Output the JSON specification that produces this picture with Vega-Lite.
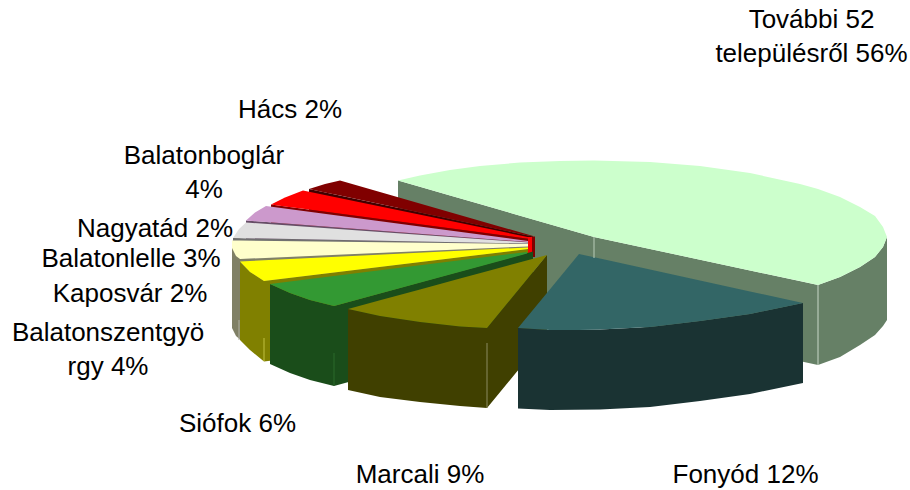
{
"$schema":"https://vega.github.io/schema/vega-lite/v6.json",
"width":910,"height":490,"padding":0,
"autosize":{"type":"fit","contains":"padding"},
"background":"white",
"view":{"stroke":null},
"datasets":{
"faces":[
{"face":"További side","u":-132,"v":64.5,"v2":-15.5},{"face":"További side","u":64,"v":8,"v2":-72},{"face":"További side","u":288,"v":-40,"v2":-120},{"face":"További side","u":310,"v":-32,"v2":-112},{"face":"További side","u":330,"v":-22,"v2":-100},{"face":"További side","u":345,"v":-12,"v2":-90},{"face":"További side","u":353,"v":-2,"v2":-81},{"face":"További side","u":357,"v":8,"v2":-75},
{"face":"További top","u":-132,"v":64.5,"v2":64.5},{"face":"További top","u":-110,"v":69.5,"v2":58.2},{"face":"További top","u":-80,"v":75,"v2":49.5},{"face":"További top","u":-50,"v":79,"v2":40.9},{"face":"További top","u":-10,"v":82.5,"v2":29.3},{"face":"További top","u":30,"v":84,"v2":17.8},{"face":"További top","u":64,"v":84.5,"v2":8},{"face":"További top","u":120,"v":83,"v2":-4},{"face":"További top","u":170,"v":79,"v2":-14.7},{"face":"További top","u":220,"v":72,"v2":-25.4},{"face":"További top","u":270,"v":61,"v2":-36.1},{"face":"További top","u":288,"v":56,"v2":-40},{"face":"További top","u":310,"v":48,"v2":-32},{"face":"További top","u":330,"v":38,"v2":-22},{"face":"További top","u":345,"v":29,"v2":-12},{"face":"További top","u":353,"v":18,"v2":-2},{"face":"További top","u":357,"v":8,"v2":8},
{"face":"Hács side","u":-221,"v":56,"v2":-24},{"face":"Hács side","u":3,"v":8.5,"v2":-71.5},
{"face":"Hács band","u":2,"v":8.5,"v2":-12},{"face":"Hács band","u":5,"v":8.5,"v2":-12},
{"face":"Hács top","u":-221,"v":56,"v2":56},{"face":"Hács top","u":-205,"v":61,"v2":52.6},{"face":"Hács top","u":-190,"v":64.5,"v2":49.4},{"face":"Hács top","u":3,"v":9,"v2":8.5},
{"face":"Boglár side","u":-259,"v":40.5,"v2":-39.5},{"face":"Boglár side","u":0,"v":6,"v2":-74},
{"face":"Boglár band","u":-2,"v":8,"v2":-8},{"face":"Boglár band","u":2,"v":8,"v2":-8},
{"face":"Boglár top","u":-259,"v":40.5,"v2":40.5},{"face":"Boglár top","u":-245,"v":47.5,"v2":38.6},{"face":"Boglár top","u":-227,"v":54.5,"v2":36.2},{"face":"Boglár top","u":0,"v":7.5,"v2":6},
{"face":"Nagyatád side","u":-284,"v":24.5,"v2":-55.5},{"face":"Nagyatád side","u":-2,"v":3,"v2":-77},
{"face":"Nagyatád top","u":-284,"v":24.5,"v2":24.5},{"face":"Nagyatád top","u":-275,"v":32.5,"v2":23.8},{"face":"Nagyatád top","u":-264,"v":39,"v2":23},{"face":"Nagyatád top","u":-2,"v":4,"v2":3},
{"face":"Lelle side","u":-297,"v":7,"v2":-73},{"face":"Lelle side","u":-2,"v":1.5,"v2":-78.5},
{"face":"Lelle top","u":-297,"v":7,"v2":7},{"face":"Lelle top","u":-291,"v":16,"v2":6.9},{"face":"Lelle top","u":-284,"v":22.5,"v2":6.8},{"face":"Lelle top","u":-2,"v":2.5,"v2":1.5},
{"face":"Kaposvár side","u":-298,"v":4.5,"v2":-83},{"face":"Kaposvár side","u":-294,"v":0,"v2":-91},{"face":"Kaposvár side","u":-290,"v":-14,"v2":-94.5},{"face":"Kaposvár side","u":-2,"v":-1.5,"v2":-81.5},
{"face":"Kaposvár top","u":-298,"v":4.5,"v2":-3},{"face":"Kaposvár top","u":-294,"v":4.4,"v2":-11},{"face":"Kaposvár top","u":-290,"v":4.4,"v2":-14},{"face":"Kaposvár top","u":-2,"v":1,"v2":-1.5},
{"face":"Szentgyörgy side","u":-290,"v":-17,"v2":-95},{"face":"Szentgyörgy side","u":-280,"v":-27,"v2":-105},{"face":"Szentgyörgy side","u":-266,"v":-36,"v2":-116.5},{"face":"Szentgyörgy side","u":-2,"v":-4,"v2":-84},
{"face":"Szentgyörgy top","u":-290,"v":-16.5,"v2":-16.5},{"face":"Szentgyörgy top","u":-280,"v":-16,"v2":-27},{"face":"Szentgyörgy top","u":-266,"v":-15.3,"v2":-36},{"face":"Szentgyörgy top","u":-2,"v":-2.5,"v2":-4},
{"face":"Siófok side","u":-260,"v":-39,"v2":-119},{"face":"Siófok side","u":-240,"v":-48,"v2":-128},{"face":"Siófok side","u":-220,"v":-55,"v2":-135},{"face":"Siófok side","u":-196,"v":-61,"v2":-141},{"face":"Siófok side","u":3,"v":-6.5,"v2":-86.5},
{"face":"Siófok top","u":-260,"v":-39,"v2":-39},{"face":"Siófok top","u":-240,"v":-36.5,"v2":-48},{"face":"Siófok top","u":-220,"v":-34,"v2":-55},{"face":"Siófok top","u":-196,"v":-31,"v2":-61},{"face":"Siófok top","u":-3,"v":-7,"v2":-8.6},
{"face":"Marcali side","u":-182,"v":-64,"v2":-145},{"face":"Marcali side","u":-150,"v":-71,"v2":-152},{"face":"Marcali side","u":-110,"v":-77,"v2":-157},{"face":"Marcali side","u":-70,"v":-81.5,"v2":-161},{"face":"Marcali side","u":-43,"v":-83,"v2":-163},{"face":"Marcali side","u":17,"v":-10,"v2":-90},
{"face":"Marcali top","u":-182,"v":-64,"v2":-64},{"face":"Marcali top","u":-150,"v":-55.3,"v2":-71},{"face":"Marcali top","u":-110,"v":-44.5,"v2":-77},{"face":"Marcali top","u":-70,"v":-33.6,"v2":-81.5},{"face":"Marcali top","u":-43,"v":-26.3,"v2":-83},{"face":"Marcali top","u":17,"v":-10,"v2":-10},
{"face":"Fonyód side","u":-12,"v":-83,"v2":-163.5},{"face":"Fonyód side","u":20,"v":-85,"v2":-165},{"face":"Fonyód side","u":70,"v":-84.5,"v2":-164.5},{"face":"Fonyód side","u":120,"v":-82,"v2":-162},{"face":"Fonyód side","u":170,"v":-76,"v2":-156},{"face":"Fonyód side","u":220,"v":-69,"v2":-149},{"face":"Fonyód side","u":273,"v":-58,"v2":-138},
{"face":"Fonyód top","u":-12,"v":-83,"v2":-83},{"face":"Fonyód top","u":20,"v":-44.2,"v2":-85},{"face":"Fonyód top","u":49,"v":-9,"v2":-85},{"face":"Fonyód top","u":70,"v":-13.6,"v2":-84.5},{"face":"Fonyód top","u":120,"v":-24.5,"v2":-82},{"face":"Fonyód top","u":170,"v":-35.5,"v2":-76},{"face":"Fonyód top","u":220,"v":-46.4,"v2":-69},{"face":"Fonyód top","u":273,"v":-58,"v2":-58}
],
"edges":[
{"edge":"További inner","u":64,"v":8,"v2":-13},
{"edge":"További outer","u":288,"v":-40,"v2":-120},
{"edge":"Marcali","u":-43,"v":-98,"v2":-163},
{"edge":"Siófok","u":-196,"v":-108,"v2":-140},
{"edge":"Szentgyörgy","u":-266,"v":-93,"v2":-116},
{"edge":"Kaposvár","u":-291,"v":-75,"v2":-95}
],
"labels":[
{"settlement":"További 52 település","share":56,"label":"További 52\ntelepülésről 56%","u":281.5,"v":225},
{"settlement":"Fonyód","share":12,"label":"Fonyód 12%","u":215.5,"v":-230},
{"settlement":"Marcali","share":9,"label":"Marcali 9%","u":-110,"v":-229.5},
{"settlement":"Siófok","share":6,"label":"Siófok 6%","u":-292.5,"v":-179},
{"settlement":"Balatonszentgyörgy","share":4,"label":"Balatonszentgyö\nrgy 4%","u":-422,"v":-88},
{"settlement":"Kaposvár","share":2,"label":"Kaposvár 2%","u":-400,"v":-49},
{"settlement":"Balatonlelle","share":3,"label":"Balatonlelle 3%","u":-399,"v":-14},
{"settlement":"Nagyatád","share":2,"label":"Nagyatád 2%","u":-375,"v":16},
{"settlement":"Balatonboglár","share":4,"label":"Balatonboglár\n4%","u":-326,"v":89},
{"settlement":"Hács","share":2,"label":"Hács 2%","u":-240,"v":135}
]
},
"layer":[
{"data":{"name":"faces"},
 "mark":{"type":"area","interpolate":"linear","line":false},
 "encoding":{
  "x":{"field":"u","type":"quantitative","axis":null,"scale":{"domain":[-530,380],"nice":false,"zero":false}},
  "y":{"field":"v","type":"quantitative","axis":null,"stack":null,"scale":{"domain":[-245,245],"nice":false,"zero":false}},
  "y2":{"field":"v2"},
  "color":{"field":"face","type":"nominal","legend":null,"sort":null,"scale":{
   "domain":["További side","További top","Hács side","Hács band","Hács top","Boglár side","Boglár band","Boglár top","Nagyatád side","Nagyatád top","Lelle side","Lelle top","Kaposvár side","Kaposvár top","Szentgyörgy side","Szentgyörgy top","Siófok side","Siófok top","Marcali side","Marcali top","Fonyód side","Fonyód top"],
   "range":["#668066","#ccffcc","#400000","#800000","#800000","#800000","#ff0000","#ff0000","#664d66","#cc99cc","#707070","#e0e0e0","#808066","#ffffcc","#808000","#ffff00","#1a4d1a","#339933","#404000","#808000","#1a3333","#336666"]}}
 }},
{"data":{"name":"edges"},
 "mark":{"type":"rule","strokeWidth":1},
 "encoding":{
  "x":{"field":"u","type":"quantitative"},
  "y":{"field":"v","type":"quantitative"},
  "y2":{"field":"v2"},
  "stroke":{"field":"edge","type":"nominal","legend":null,"scale":{
   "domain":["További inner","További outer","Marcali","Siófok","Szentgyörgy","Kaposvár"],
   "range":["#b8ccb8","#c8d8c8","#8a8a60","#2a6a2a","#c0c040","#b0b0a0"]}}
 }},
{"data":{"name":"labels"},
 "mark":{"type":"text","font":"Liberation Sans","fontSize":26,"color":"#000000","align":"center","baseline":"middle","lineBreak":"\n","lineHeight":34},
 "encoding":{
  "x":{"field":"u","type":"quantitative"},
  "y":{"field":"v","type":"quantitative"},
  "text":{"field":"label","type":"nominal"}
 }}
],
"resolve":{"scale":{"color":"independent"}}
}
